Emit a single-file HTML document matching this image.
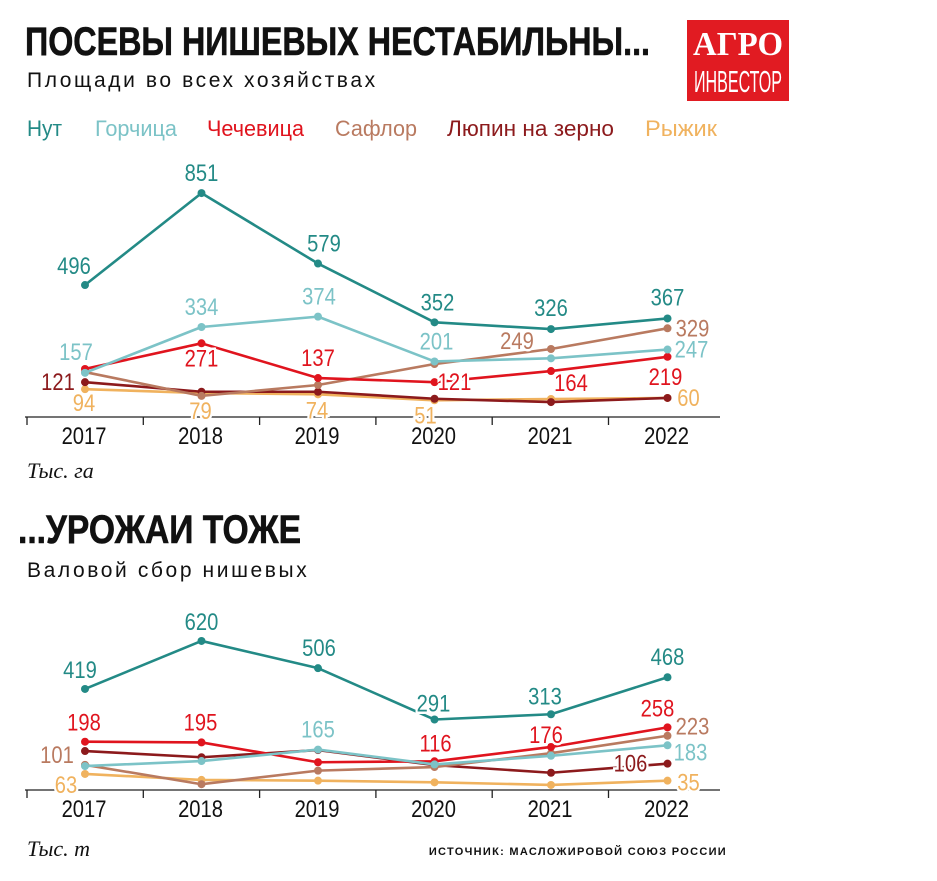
<!DOCTYPE html>
<html><head><meta charset="utf-8">
<style>
html,body{margin:0;padding:0;background:#fff;}
svg{display:block;}
.n{font-family:"Liberation Sans",sans-serif;}
</style></head>
<body>
<svg id="chart" width="937" height="881" viewBox="0 0 937 881" xmlns="http://www.w3.org/2000/svg">
<text x="25" y="55" font-family="Liberation Sans, sans-serif" font-weight="bold" font-size="40" fill="#111" stroke="#111" stroke-width="0.6" textLength="625" lengthAdjust="spacingAndGlyphs">ПОСЕВЫ НИШЕВЫХ НЕСТАБИЛЬНЫ...</text>
<text x="27" y="87" font-family="Liberation Sans, sans-serif" font-size="21" letter-spacing="2.6" fill="#111">Площади во всех хозяйствах</text>
<g>
<rect x="687" y="20" width="102" height="81" fill="#e11b22"/>
<text x="738" y="55" text-anchor="middle" font-family="Liberation Serif, serif" font-weight="bold" font-size="34" fill="#fff" textLength="90" lengthAdjust="spacingAndGlyphs">АГРО</text>
<text x="738" y="92" text-anchor="middle" font-family="Liberation Sans, sans-serif" font-size="31" fill="#fff" textLength="88" lengthAdjust="spacingAndGlyphs">ИНВЕСТОР</text>
</g>
<g id="legend" class="n" font-size="22"></g>
<g id="top"></g>
<text x="27" y="478" font-family="Liberation Serif, serif" font-style="italic" font-size="22" fill="#111">Тыс. га</text>
<text x="18" y="543" font-family="Liberation Sans, sans-serif" font-weight="bold" font-size="40" fill="#111" stroke="#111" stroke-width="0.6" textLength="283" lengthAdjust="spacingAndGlyphs">...УРОЖАИ ТОЖЕ</text>
<text x="27" y="577" font-family="Liberation Sans, sans-serif" font-size="21" letter-spacing="2.6" fill="#111">Валовой сбор нишевых</text>
<g id="bottom"></g>
<text x="27" y="856" font-family="Liberation Serif, serif" font-style="italic" font-size="22" fill="#111">Тыс. т</text>
<text x="727" y="855" text-anchor="end" font-family="Liberation Sans, sans-serif" font-weight="bold" font-size="11" letter-spacing="1.3" fill="#111">ИСТОЧНИК: МАСЛОЖИРОВОЙ СОЮЗ РОССИИ</text>
</svg>
<script>
const years = ["2017","2018","2019","2020","2021","2022"];
const seriesNames = ["Нут","Горчица","Чечевица","Сафлор","Люпин на зерно","Рыжик"];
const seriesColors = ["#238a86","#7cc3c7","#e0141e","#b97a60","#8c1a1c","#f0b25e"];
const areaNut = [496,851,579,352,326,367];
const areaMustard = [157,334,374,201,213,247];
const areaLentil = [172,271,137,121,164,219];
const areaSafflower = [160,68,110,191,249,329];
const areaLupin = [121,84,84,57,44,60];
const areaCamelina = [94,79,74,51,56,60];
const yieldNut = [419,620,506,291,313,468];
const yieldMustard = [96,117,165,103,139,183];
const yieldLentil = [198,195,112,116,176,258];
const yieldSafflower = [101,20,77,92,150,223];
const yieldLupin = [159,133,163,100,68,106];
const yieldCamelina = [63,38,35,28,17,35];
// label placement: [series, yearIndex, dx, dy]
const topLabels = [[0,0,-11,-19],[0,1,0,-20],[0,2,6,-20],[0,3,3,-20],[0,4,0,-21],[0,5,0,-21],
 [1,0,-9,-21],[1,1,0,-20],[1,2,1,-20],[1,3,2,-20],[1,5,24,0],
 [2,1,0,15],[2,2,0,-20],[2,3,20,0],[2,4,20,12],[2,5,-2,20],
 [3,4,-34,-8],[3,5,25,0],[4,0,-27,0],
 [5,0,-1,14],[5,1,-1,18],[5,2,-1,16],[5,3,-9,15],[5,5,21,0]];
const botLabels = [[0,0,-5,-19],[0,1,0,-19],[0,2,1,-20],[0,3,-1,-16],[0,4,-6,-18],[0,5,0,-20],
 [2,0,-1,-19],[2,1,-1,-20],[2,3,1,-18],[2,4,-5,-12],[2,5,-10,-19],
 [1,2,0,-20],[3,0,-28,-10],[3,5,25,-9],[1,5,23,7],[4,5,-37,0],[5,0,-19,11],[5,5,21,2]];
const NS="http://www.w3.org/2000/svg";
function mk(tag,attrs,parent){const e=document.createElementNS(NS,tag);for(const k in attrs)e.setAttribute(k,attrs[k]);parent.appendChild(e);return e;}
const xPos = i => 85 + i*116.5;
const leg=document.getElementById('legend');
const legX=[27,95,207,335,447,645];
const legW=[35,82,97,82,167,72];
seriesNames.forEach((n,i)=>{const t=mk('text',{x:legX[i],y:136,fill:seriesColors[i],textLength:legW[i],lengthAdjust:'spacingAndGlyphs'},leg);t.textContent=n;

});
function narrowText(g,x,y,str,fill,halo){
  const t=mk('text',{transform:'translate('+x+','+y+') scale(0.84,1)','text-anchor':'middle','font-size':24,fill:fill,class:'n'},g);
  if(halo){t.setAttribute('stroke','#fff');t.setAttribute('stroke-width',5);t.setAttribute('paint-order','stroke');}
  t.textContent=str;return t;
}
function drawChart(gid,data,zeroY,scale,axisY,labels,name){
  const g=document.getElementById(gid);
  
  
  const yPos=v=>zeroY-v*scale;
  const ax=mk('line',{x1:25,x2:720,y1:axisY,y2:axisY,stroke:'#222','stroke-width':1.3},g);
  
  
  for(let i=0;i<6;i++){const tx=27+i*116.3;const tk=mk('line',{x1:tx,x2:tx,y1:axisY,y2:axisY+8,stroke:'#222','stroke-width':1.3},g);
    
    
    const t=narrowText(g,xPos(i)-1,axisY+27,years[i],'#111',false);
    
    }
  const order=[5,4,3,2,1,0];
  order.forEach(s=>{const vals=data[s];
    const pts=vals.map((v,i)=>xPos(i)+','+yPos(v)).join(' ');
    const pl=mk('polyline',{points:pts,fill:'none',stroke:seriesColors[s],'stroke-width':2.6,'stroke-linejoin':'round'},g);
    
    
    vals.forEach((v,i)=>{const c=mk('circle',{cx:xPos(i),cy:yPos(v),r:4,fill:seriesColors[s]},g);
      
      });
  });
  labels.forEach(l=>{const [s,i,dx,dy]=l;const v=data[s][i];
    const t=narrowText(g,xPos(i)+dx,yPos(v)+dy+8,v,seriesColors[s],true);
    
    });
}
drawChart('top',[areaNut,areaMustard,areaLentil,areaSafflower,areaLupin,areaCamelina],413.5,0.259,417,topLabels,'chart-area');
drawChart('bottom',[yieldNut,yieldMustard,yieldLentil,yieldSafflower,yieldLupin,yieldCamelina],789,0.2388,790,botLabels,'chart-yield');
</script>
</body></html>
